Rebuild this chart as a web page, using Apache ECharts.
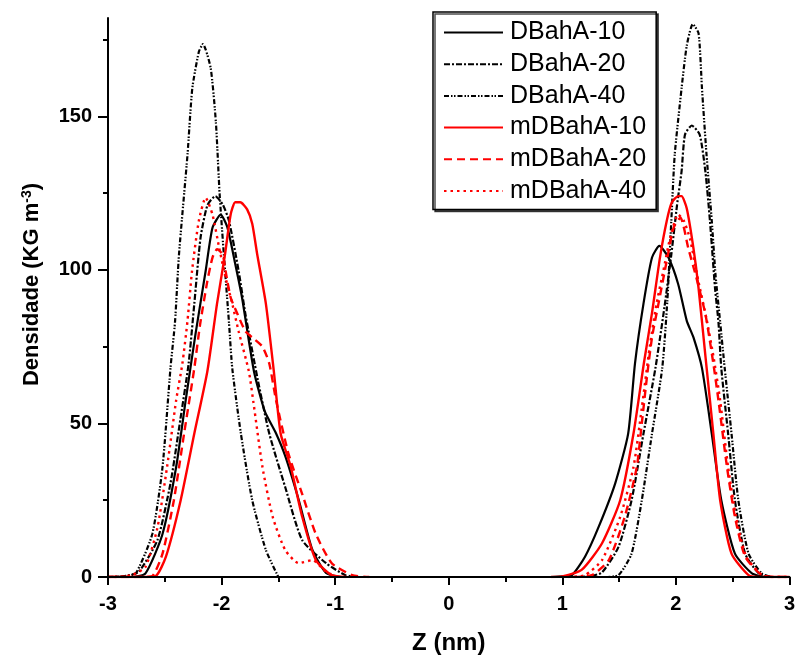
<!DOCTYPE html>
<html>
<head>
<meta charset="utf-8">
<script src="https://cdn.jsdelivr.net/npm/echarts@6/dist/echarts.min.js"></script>
<style>html,body{margin:0;padding:0;background:#fff;}#c{width:798px;height:660px;}</style>
</head>
<body>
<div id="c"></div>
<script>
const seriesNames = ['DBahA-10','DBahA-20','DBahA-40','mDBahA-10','mDBahA-20','mDBahA-40'];
const xTicks = [-3,-2,-1,0,1,2,3];
const yTickLabels = [0,50,100,150];
const yMinorTicks = [25,75,125,175];

// [Z (nm), Densidade]  ('-' marks the empty gap between the two peaks)
const dbaha10 = [[-3,0],[-2.8,0],[-2.67,1.2],[-2.52,14],[-2.40,35.8],[-2.316,57.5],[-2.23,79],[-2.14,99.7],[-2.08,113.7],[-2.008,118],[-1.95,114],[-1.88,102],[-1.82,91],[-1.715,67],[-1.62,54],[-1.52,46.7],[-1.436,39],[-1.32,25],[-1.20,8.8],[-1.08,1.3],[-0.95,0],[0,'-'],
  [0.9,0],[1.0,0.2],[1.085,0.6],[1.20,6.6],[1.32,16.3],[1.466,30.5],[1.58,46.7],[1.64,69.5],[1.715,89],[1.79,104],[1.855,107.8],[1.935,104],[2.02,95.4],[2.096,83.4],[2.155,78],[2.23,68],[2.316,46.7],[2.40,25],[2.52,7.6],[2.67,1.2],[2.8,0],[3,0]];
const dbaha20 = [[-3,0],[-2.85,0.3],[-2.73,1.7],[-2.565,12],[-2.45,30.5],[-2.36,52],[-2.29,69.5],[-2.24,89],[-2.185,110.5],[-2.125,121],[-2.055,124],[-1.99,121.3],[-1.935,116],[-1.85,99.7],[-1.79,85.6],[-1.68,64],[-1.58,46.7],[-1.44,29.3],[-1.29,12],[-1.08,4.5],[-0.91,0.6],[-0.8,0],[0,'-'],
  [1.15,0],[1.25,0.3],[1.35,1.5],[1.495,9.8],[1.61,25],[1.715,46.7],[1.82,68],[1.90,88],[1.96,105],[2.01,121],[2.05,132],[2.08,144],[2.14,147],[2.21,144],[2.26,132],[2.30,116],[2.345,94],[2.375,83],[2.40,68],[2.46,46.7],[2.52,25],[2.61,7.6],[2.73,1.2],[2.85,0],[3,0]];
const dbaha40 = [[-3,0],[-2.85,0.3],[-2.755,1.2],[-2.61,14],[-2.52,35.8],[-2.45,68],[-2.41,83],[-2.375,105],[-2.30,137.5],[-2.258,159],[-2.2,171],[-2.164,173.5],[-2.096,165.7],[-2.05,148],[-2.017,124.6],[-1.98,105],[-1.935,83],[-1.906,68],[-1.83,46.7],[-1.73,25],[-1.61,8.8],[-1.5,0],[0,'-'],
  [1.38,0],[1.495,0.6],[1.61,7.6],[1.70,25],[1.79,46.7],[1.88,68],[1.925,90],[1.96,116],[1.99,137.5],[2.05,159],[2.096,173],[2.149,180],[2.20,177],[2.23,159],[2.27,137.5],[2.316,116],[2.35,98],[2.39,83],[2.43,68],[2.49,46.7],[2.55,25],[2.64,7.6],[2.755,1.2],[2.85,0],[3,0]];
const mdbaha10 = [[-3,0],[-2.7,0],[-2.58,0.3],[-2.49,6.6],[-2.36,25],[-2.24,46.7],[-2.125,67],[-2.04,89],[-1.97,105],[-1.92,118],[-1.88,122],[-1.835,122],[-1.775,119.7],[-1.73,115],[-1.686,105],[-1.61,89],[-1.54,67],[-1.48,46.7],[-1.39,35.8],[-1.29,19.6],[-1.17,5.5],[-1.03,0.6],[-0.9,0],[0,'-'],
  [0.9,0],[1.0,0.2],[1.17,2.3],[1.35,11],[1.51,25],[1.627,46.7],[1.72,70],[1.79,86],[1.86,104],[1.92,116],[1.965,122],[2.02,124],[2.05,124],[2.096,120],[2.155,107],[2.20,94],[2.26,72],[2.33,46.7],[2.39,25],[2.49,7.6],[2.64,0.6],[2.75,0],[3,0]];
const mdbaha20 = [[-3,0],[-2.7,0],[-2.61,0.3],[-2.52,7.6],[-2.42,25],[-2.33,46.7],[-2.24,68],[-2.19,82],[-2.125,96.4],[-2.08,104],[-2.04,106.7],[-1.99,105],[-1.965,99.7],[-1.92,91],[-1.86,85.6],[-1.79,80],[-1.73,78],[-1.64,75],[-1.58,69.5],[-1.52,57.5],[-1.41,40],[-1.29,27],[-1.17,14],[-1.03,4.5],[-0.85,0.6],[-0.7,0],[0,'-'],
  [1.1,0],[1.26,0.6],[1.41,5.5],[1.55,19.6],[1.656,35.8],[1.70,50],[1.745,65],[1.79,78],[1.847,89],[1.92,103],[1.98,113.7],[2.04,117],[2.11,107],[2.18,97.5],[2.26,85.6],[2.33,69.5],[2.375,57.5],[2.45,35.8],[2.52,19.6],[2.61,6.6],[2.755,0.6],[2.85,0],[3,0]];
const mdbaha40 = [[-3,0],[-2.9,0],[-2.78,0.8],[-2.67,3.3],[-2.565,16],[-2.48,35.8],[-2.40,57.5],[-2.345,69.5],[-2.30,83.4],[-2.26,99.7],[-2.2,116],[-2.14,123.5],[-2.08,118],[-2.02,107],[-1.965,97.5],[-1.906,89],[-1.85,80],[-1.76,67],[-1.72,57],[-1.64,35.8],[-1.55,19.6],[-1.44,8.8],[-1.32,4.5],[-1.20,5.5],[-1.08,1.7],[-0.97,0],[0,'-'],
  [1.05,0],[1.20,0.6],[1.35,5.5],[1.51,19.6],[1.627,35.8],[1.70,55],[1.77,75],[1.83,89],[1.89,99.7],[1.95,110.5],[2.02,118],[2.07,116],[2.125,110],[2.20,96],[2.27,84],[2.33,72],[2.39,57.5],[2.46,35.8],[2.53,19.6],[2.62,6.6],[2.76,0.6],[2.85,0],[3,0]];

const seriesData = [dbaha10, dbaha20, dbaha40, mdbaha10, mdbaha20, mdbaha40];
const seriesColors = ['#000','#000','#000','#ff0000','#ff0000','#ff0000'];
const seriesDash = ['solid',[6,2,2,2],[5,2,1.5,1.5,1.5,2],'solid',[8,5],[2.5,4]];
const seriesWidth = [2.2,2.2,2.2,2.4,2.4,2.4];

const chart = echarts.init(document.getElementById('c'), null, {renderer:'canvas'});
const FONT = 'Liberation Sans, Arial, sans-serif';

const option = {
  animation: false,
  backgroundColor: '#fff',
  grid: {left:108, right:8, top:18, bottom:83, containLabel:false},
  legend: {
    orient:'vertical', left:433, top:12,
    data: seriesNames,
    itemWidth:59, itemHeight:14, itemGap:6.7,
    padding:[8,10,6,10],
    borderColor:'#000', borderWidth:1.5, backgroundColor:'#fff',
    shadowColor:'rgba(0,0,0,0.7)', shadowOffsetX:2, shadowOffsetY:2, shadowBlur:0,
    itemStyle:{opacity:0},
    textStyle:{fontFamily:FONT, fontSize:25, color:'#000', padding:[0,0,0,2]}
  },
  xAxis: {
    type:'value', min:-3, max:3, interval:1, z:5,
    name:'Z (nm)', nameLocation:'middle', nameGap:54,
    nameTextStyle:{fontFamily:FONT, fontSize:24, fontWeight:'bold', color:'#000'},
    axisLine:{show:true, onZero:false, lineStyle:{color:'#000', width:2.2}},
    axisTick:{show:true, length:8, lineStyle:{color:'#000', width:2}},
    minorTick:{show:true, splitNumber:2, length:5, lineStyle:{color:'#000', width:2}},
    axisLabel:{fontFamily:FONT, fontSize:20, fontWeight:'bold', color:'#000', margin:17,
      customValues: xTicks},
    splitLine:{show:false}
  },
  yAxis: [{
    type:'value', min:0, max:182, interval:50, z:5, position:'left',
    name:'Densidade (KG m{sup|-3})', nameLocation:'middle', nameGap:64,
    nameTextStyle:{fontFamily:FONT, fontSize:22, fontWeight:'bold', color:'#000', padding:[0,0,0,26],
      rich:{sup:{fontFamily:FONT, fontSize:14, fontWeight:'bold', color:'#000', verticalAlign:'top', padding:[0,0,10,0]}}},
    axisLine:{show:true, onZero:false, lineStyle:{color:'#000', width:2}},
    axisTick:{show:true, length:10, lineStyle:{color:'#000', width:2}, customValues: yTickLabels},
    axisLabel:{fontFamily:FONT, fontSize:20, fontWeight:'bold', color:'#000', margin:16, customValues: yTickLabels},
    splitLine:{show:false}
  },{
    type:'value', min:0, max:182, position:'left', offset:0, z:5,
    axisLine:{show:false, onZero:false},
    axisTick:{show:true, length:5, lineStyle:{color:'#000', width:2}, customValues: yMinorTicks},
    axisLabel:{show:false},
    splitLine:{show:false}
  }],
  series: seriesNames.map((n,i)=>({
    name:n, type:'line', data:seriesData[i], yAxisIndex:0,
    symbol:'none', smooth:0.2, clip:true, connectNulls:false,
    lineStyle:{color:seriesColors[i], width:seriesWidth[i], type:seriesDash[i]},
    itemStyle:{color:seriesColors[i]},
    z: i<3 ? 2 : 3
  }))
};
chart.setOption(option);
</script>
</body>
</html>
